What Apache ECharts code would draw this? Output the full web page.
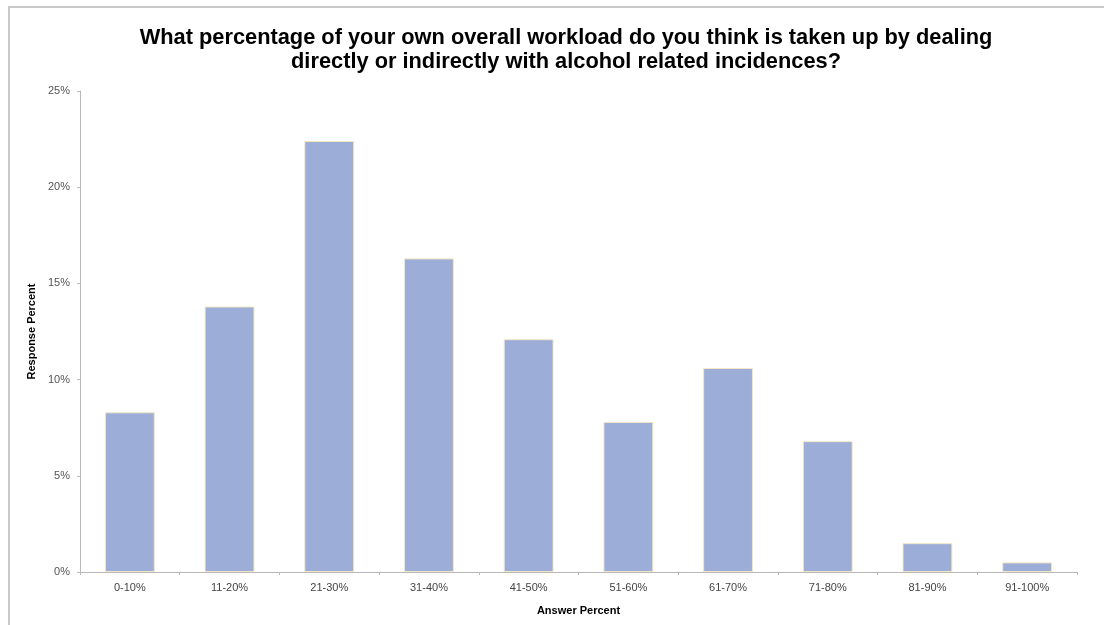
<!DOCTYPE html>
<html>
<head>
<meta charset="utf-8">
<script src="https://cdn.jsdelivr.net/npm/echarts@6/dist/echarts.min.js"></script>
<style>
html,body{margin:0;padding:0;background:#fff;}
#chart{width:1104px;height:625px;}
</style>
</head>
<body>
<div id="chart"></div>
<script>
const categories = ['0-10%','11-20%','21-30%','31-40%','41-50%','51-60%','61-70%','71-80%','81-90%','91-100%'];
const responsePercent = [8.3, 13.8, 22.4, 16.3, 12.1, 7.8, 10.6, 6.8, 1.5, 0.5];
const yTicks = [0, 5, 10, 15, 20, 25];

const chart = echarts.init(document.getElementById('chart'));
chart.setOption({
  backgroundColor: '#fff',
  animation: false,
  graphic: [{
    type: 'rect',
    shape: {x: 9, y: 7, width: 1200, height: 700},
    style: {fill: 'none', stroke: '#c8c8c8', lineWidth: 2},
    silent: true
  }],
  title: {
    text: 'What percentage of your own overall workload do you think is taken up by dealing\ndirectly or indirectly with alcohol related incidences?',
    left: 561, top: 21, textAlign: 'center',
    textStyle: {fontFamily: 'Liberation Sans, Arial, sans-serif', fontWeight: 'bold', fontSize: 21.8, color: '#000', lineHeight: 24}
  },
  grid: {left: 80, right: 27, top: 91, bottom: 53},
  xAxis: {
    type: 'category',
    data: categories,
    name: 'Answer Percent',
    nameLocation: 'middle',
    nameGap: 33,
    nameTextStyle: {fontFamily: 'Liberation Sans, Arial, sans-serif', fontWeight: 'bold', fontSize: 11, color: '#000'},
    axisLine: {lineStyle: {color: '#b8b8b8', width: 1}},
    axisTick: {show: true, length: 3, lineStyle: {color: '#b8b8b8'}},
    axisLabel: {fontFamily: 'Liberation Sans, Arial, sans-serif', fontSize: 11, color: '#444', margin: 10}
  },
  yAxis: {
    type: 'value',
    min: 0, max: 25, interval: 5,
    name: 'Response Percent',
    nameLocation: 'middle',
    nameGap: 39,
    nameRotate: 90,
    nameTextStyle: {fontFamily: 'Liberation Sans, Arial, sans-serif', fontWeight: 'bold', fontSize: 11, color: '#000'},
    axisLine: {show: true, lineStyle: {color: '#b8b8b8', width: 1}},
    axisTick: {show: true, length: 3, lineStyle: {color: '#b8b8b8'}},
    splitLine: {show: false},
    axisLabel: {fontFamily: 'Liberation Sans, Arial, sans-serif', fontSize: 11, color: '#555', margin: 10,
      formatter: v => yTicks.indexOf(v) >= 0 ? v + '%' : ''}
  },
  series: [{
    type: 'bar',
    data: responsePercent,
    barWidth: '50%',
    itemStyle: {color: '#9cadd8', borderColor: '#f3e6c4', borderWidth: 1},
    emphasis: {disabled: true}
  }]
});
</script>
</body>
</html>
